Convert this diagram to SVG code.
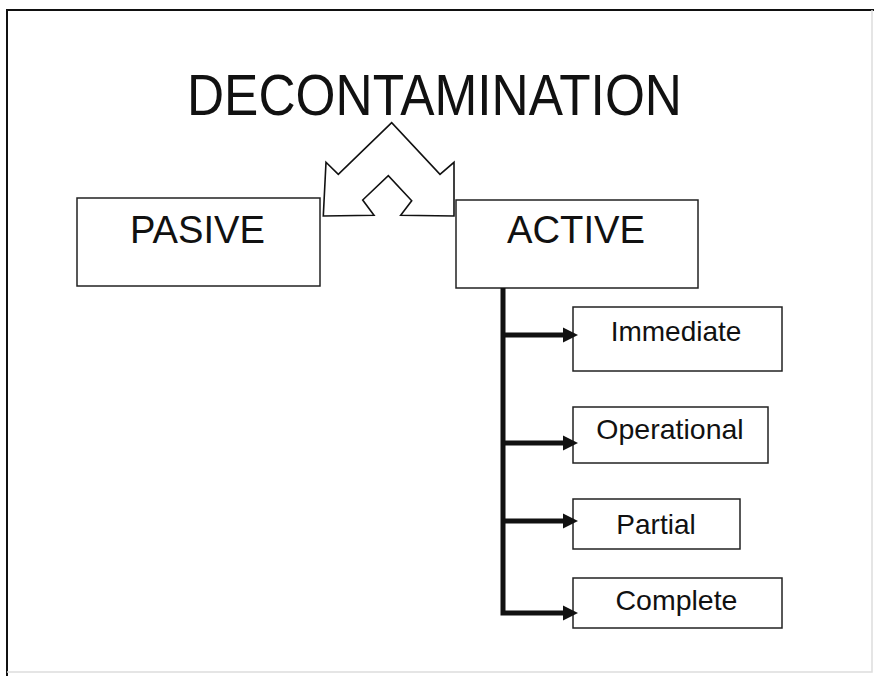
<svg xmlns="http://www.w3.org/2000/svg" width="874" height="683" viewBox="0 0 874 683">
<defs>
<style>
.box{fill:#fff;stroke:#222;stroke-width:1.5}
.t{font-family:"Liberation Sans",Arial,sans-serif;fill:#111;text-anchor:middle}
.conn{fill:none;stroke:#111;stroke-width:5;stroke-linejoin:miter}
</style>
<marker id="ah" markerUnits="userSpaceOnUse" markerWidth="16" markerHeight="16" refX="0" refY="8" orient="auto">
<path d="M0,0.5 L15,8 L0,15.5 Z" fill="#111"/>
</marker>
</defs>
<rect width="874" height="683" fill="#fff"/>
<g id="frame">
<path d="M7,676 V10 H874" fill="none" stroke="#111" stroke-width="2"/>
<path d="M7,672 H872 V10" fill="none" stroke="#ddd" stroke-width="1.5"/>
</g>
<g id="title">
<text class="t" x="434.5" y="115" font-size="57" textLength="495" lengthAdjust="spacingAndGlyphs">DECONTAMINATION</text>
</g>
<g id="double-arrow">
<polygon points="391.7,122.7 338.3,174.3 326,162.3 323.3,216 374,215.3 362.7,200 388.3,175.7 411.7,200.7 400.7,215.3 454,216 454,162.3 440,174.3" fill="#fff" stroke="#111" stroke-width="1.6" stroke-linejoin="miter"/>
</g>
<g id="pasive">
<rect class="box" x="77" y="198" width="243" height="88"/>
<text class="t" x="197.5" y="243" font-size="38" textLength="135" lengthAdjust="spacingAndGlyphs">PASIVE</text>
</g>
<g id="active">
<rect class="box" x="456" y="200" width="242" height="88"/>
<text class="t" x="576" y="243" font-size="38" textLength="138" lengthAdjust="spacingAndGlyphs">ACTIVE</text>
</g>
<g id="immediate">
<rect class="box" x="573" y="307" width="209" height="64"/>
<text class="t" x="676" y="341" font-size="28">Immediate</text>
</g>
<g id="operational">
<rect class="box" x="573" y="407" width="195" height="56"/>
<text class="t" x="670" y="439" font-size="28.5">Operational</text>
</g>
<g id="partial">
<rect class="box" x="573" y="499" width="167" height="50"/>
<text class="t" x="656" y="534" font-size="28">Partial</text>
</g>
<g id="complete">
<rect class="box" x="573" y="578" width="209" height="50"/>
<text class="t" x="676.5" y="610" font-size="28.5">Complete</text>
</g>
<g id="connectors">
<path class="conn" d="M503,288 V613 H563" marker-end="url(#ah)"/>
<path class="conn" d="M503,335 H563" marker-end="url(#ah)"/>
<path class="conn" d="M503,443 H563" marker-end="url(#ah)"/>
<path class="conn" d="M503,521 H563" marker-end="url(#ah)"/>
</g>
</svg>
